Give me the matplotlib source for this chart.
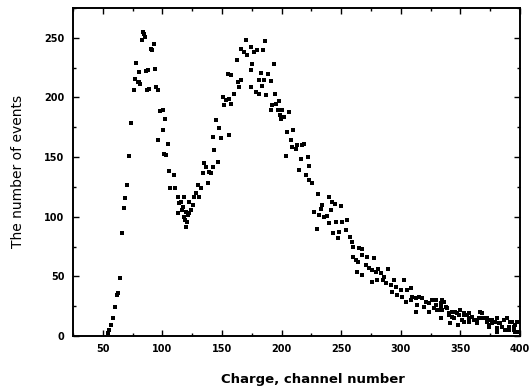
import matplotlib
matplotlib.use("Agg")
import matplotlib.pyplot as plt
from matplotlib.ticker import MultipleLocator

# Data (channel number, number of events)
rise_peak1_x = [54.2, 55.6, 57.0, 58.4, 60.3, 62.0, 63.1, 64.8, 66.2, 67.6, 68.7, 70.1, 72.0, 73.7,
                75.9, 77.3, 77.9, 79.3, 80.1, 80.7, 81.3, 82.6, 83.5, 84.3, 85.4, 86.3, 87.1, 88.2,
                89.1, 90.5, 91.4, 92.7, 93.8, 94.7, 96.0, 98.3, 100.8, 102.2, 100.2, 96.6, 105.0,
                101.6, 103.0, 105.3, 109.4, 110.6, 106.7, 112.8, 114.2]
rise_peak1_y = [2.3, 5.1, 9.2, 14.8, 24.6, 34.3, 36.3, 48.9, 86.0, 107.5, 115.9, 126.5, 151.1, 178.7,
                206.1, 215.6, 229.0, 213.0, 213.0, 221.4, 211.7, 248.5, 254.9, 253.5, 250.7, 222.3, 206.1, 222.8,
                207.5, 241.0, 240.1, 245.2, 224.2, 208.9, 206.1, 188.8, 189.9, 182.3, 172.6, 164.2, 160.8,
                153.0, 151.6, 138.5, 134.9, 123.7, 123.7, 116.7, 111.7]

valley_peak2_x = [112.8, 115.6, 116.4, 117.0, 118.4, 118.4, 119.8, 119.2, 119.8, 120.3, 122.6, 121.2,
                  122.5, 124.0, 125.4, 126.8, 128.2, 129.6, 131.0, 132.4, 133.7, 135.1, 136.5, 137.9,
                  139.3, 140.7, 142.1, 143.5, 146.3, 142.1, 144.9, 147.7, 149.1, 156.1, 153.3, 156.1,
                  157.5, 150.5, 151.9, 160.3, 154.7, 157.5, 163.1, 164.5, 165.9, 162.2, 165.9, 168.6,
                  170.0, 171.4, 174.2, 175.6, 174.2, 174.2, 177.0, 179.8, 178.4]
valley_peak2_y = [102.8, 112.5, 105.5, 108.4, 116.7, 100.0, 104.2, 97.2, 91.6, 95.8, 112.5, 101.4,
                  102.8, 105.6, 109.8, 116.7, 119.5, 126.5, 116.7, 123.7, 136.3, 144.7, 141.9, 127.9,
                  137.7, 136.3, 141.9, 155.8, 146.0, 167.0, 180.9, 174.0, 165.6, 168.4, 197.7, 199.1,
                  194.9, 200.5, 193.5, 203.3, 220.0, 218.6, 213.0, 208.9, 214.4, 231.2, 241.0, 238.2,
                  248.0, 235.4, 242.4, 228.4, 222.8, 208.9, 238.2, 239.6, 204.7]

peak2_top_x = [181.2, 186.2, 184.6, 193.8, 182.6, 189.0, 185.4, 191.5, 184.0, 181.2, 186.8, 194.6,
               198.0, 192.4, 195.2, 191.0, 196.6, 200.2, 206.3, 198.5, 202.1, 199.4, 204.9, 210.0,
               207.7, 209.1, 211.9, 213.3, 217.5, 218.9, 203.5, 216.1, 222.5, 223.1, 214.7, 220.3,
               223.1, 225.9]
peak2_top_y = [214.4, 247.3, 240.1, 227.8, 220.5, 219.4, 215.0, 213.8, 209.4, 203.2, 202.4, 203.2,
               197.1, 194.0, 194.3, 189.3, 189.3, 189.3, 187.9, 185.1, 183.7, 182.3, 171.1, 172.5,
               164.2, 158.6, 157.1, 160.0, 160.0, 160.8, 150.7, 148.8, 150.2, 142.4, 139.0, 134.8,
               130.6, 128.4]

tail_x = [230.9, 234.2, 239.8, 242.1, 244.9, 249.6, 232.9, 241.2, 227.3, 231.5, 235.6, 238.4, 239.8,
          246.0, 251.0, 255.2, 230.1, 243.2, 248.2, 247.7, 254.4, 257.1, 258.8, 260.2, 265.0, 267.2,
          259.9, 262.2, 264.4, 267.8, 272.0, 263.6, 267.8, 270.5, 273.3, 277.5, 276.1, 278.9, 281.2,
          283.1, 285.9, 289.5, 285.1, 276.1, 280.3, 287.3, 291.5, 294.3, 302.6, 292.9, 295.7, 299.9,
          297.1, 301.3, 305.4, 308.2, 304.0, 309.6, 308.2, 312.4, 315.2, 318.0, 320.8, 313.8, 319.4,
          323.6, 326.4, 329.2, 327.8, 333.4, 336.2, 332.0, 312.4, 323.6, 334.8, 337.6, 340.3, 333.4,
          343.1, 345.9, 348.7, 350.1, 352.9, 355.7, 341.7, 348.2, 352.9, 357.1, 359.9, 362.7, 365.5,
          368.3, 369.7, 364.1, 372.4, 375.2, 376.6, 373.8, 380.8, 382.2, 380.8, 385.0, 389.2, 390.6,
          393.4, 394.8, 396.2, 397.6, 398.4, 387.8, 357.1,
          329.2, 334.8, 333.4, 330.6, 339.0, 340.4, 343.2, 344.6, 347.3, 351.5, 353.0, 357.1,
          360.0, 361.3, 364.1, 366.9, 368.3, 372.5, 373.9, 376.7, 379.5, 380.8, 383.6, 386.4,
          390.6, 392.0, 394.8, 396.2, 397.6]
tail_y = [118.9, 109.7, 116.2, 112.5, 110.6, 109.2, 106.9, 105.5, 104.2, 101.4, 100.0, 100.5, 95.0,
          95.8, 95.8, 97.2, 89.4, 86.6, 87.4, 81.8, 88.8, 83.2, 79.0, 74.8, 73.4, 72.6,
          66.5, 63.7, 62.3, 67.9, 66.5, 53.9, 51.1, 59.5, 56.7, 65.1, 55.3, 53.9, 55.9,
          52.5, 49.7, 55.9, 46.9, 45.5, 46.9, 44.1, 42.7, 46.9, 46.9, 37.2, 41.3, 38.6,
          34.4, 33.0, 38.6, 39.9, 28.8, 33.0, 30.2, 31.6, 33.0, 31.6, 28.8, 26.0, 24.6,
          27.4, 30.2, 26.0, 23.2, 27.4, 28.8, 21.8, 20.4, 20.4, 21.8, 24.6, 19.0, 14.8,
          16.2, 20.4, 17.6, 21.8, 19.0, 17.6, 10.6, 9.2, 12.0, 14.8, 16.2, 13.4, 14.8,
          19.0, 14.8, 10.6, 12.0, 13.4, 10.6, 7.8, 14.8, 10.6, 3.6, 7.8, 14.8, 7.8,
          12.0, 5.0, 9.2, 3.6, 12.0, 5.0, 19.0,
          30.1, 30.1, 24.5, 21.7, 23.1, 17.6, 20.3, 14.8, 19.0, 13.4, 17.6, 12.0,
          16.2, 13.4, 12.0, 20.3, 14.8, 14.8, 9.2, 13.4, 12.0, 6.4, 10.6, 13.4,
          5.0, 12.0, 7.8, 3.6, 12.0]

x_ticks = [50, 100, 150, 200, 250, 300, 350, 400]
y_ticks = [0, 50, 100, 150, 200, 250]

fig = plt.figure(figsize=(5.30, 3.89), dpi=100)
ax = fig.add_axes([0.1377, 0.1362, 0.981 - 0.1377, 0.9794 - 0.1362])

for xs, ys in [(rise_peak1_x, rise_peak1_y), (valley_peak2_x, valley_peak2_y),
               (peak2_top_x, peak2_top_y), (tail_x, tail_y)]:
    ax.plot(xs, ys, linestyle="none", marker="s", markersize=2.5,
            color="black", markeredgewidth=0)

ax.set_xlim(25, 400)
ax.set_ylim(0, 275)
ax.set_xticks(x_ticks)
ax.set_yticks(y_ticks)
ax.xaxis.set_minor_locator(MultipleLocator(25))
ax.yaxis.set_minor_locator(MultipleLocator(25))
ax.tick_params(which="both", direction="in", top=True, right=True, width=1.0,
               labelsize=7, colors="black")
ax.tick_params(which="major", length=4)
ax.tick_params(which="minor", length=2)
for lbl in ax.get_xticklabels() + ax.get_yticklabels():
    lbl.set_fontweight("bold")
ax.tick_params(axis="x", pad=6)
ax.tick_params(axis="y", pad=6)
for sp in ax.spines.values():
    sp.set_linewidth(1.4)

ax.set_xlabel("Charge, channel number", fontsize=9.5, fontweight="bold")
ax.xaxis.set_label_coords(0.537, -0.113)
ax.set_ylabel("The number of events", fontsize=10)
ax.yaxis.set_label_coords(-0.107, 0.503)

fig.savefig("out.png", dpi=100)
